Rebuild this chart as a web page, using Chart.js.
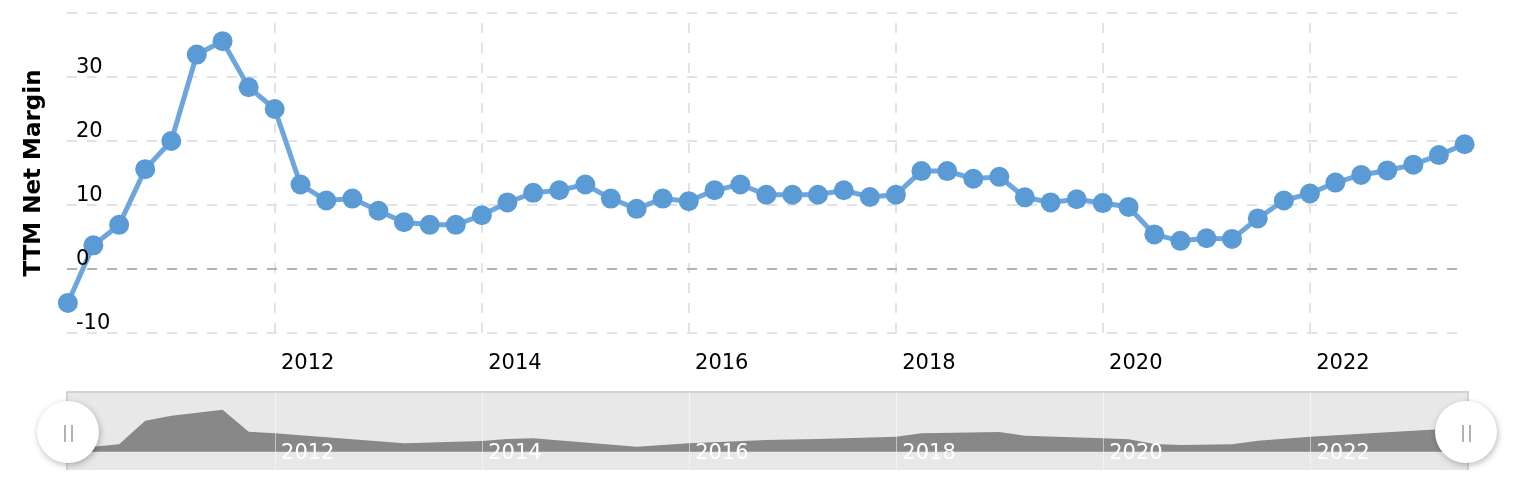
<!DOCTYPE html>
<html>
<head>
<meta charset="utf-8">
<script src="https://cdn.jsdelivr.net/npm/chart.js@4.4.1/dist/chart.umd.min.js"></script>
<style>
  html, body { margin: 0; padding: 0; background: #fff; }
  #wrap { position: relative; width: 1539px; height: 498px; }
  #mainBox { position: absolute; left: 0; top: 0; width: 1539px; height: 380px; }
  #navBox { position: absolute; left: 0; top: 380px; width: 1539px; height: 118px; }
</style>
</head>
<body>
<div id="wrap">
  <div id="mainBox"><canvas id="mainChart"></canvas></div>
  <div id="navBox"><canvas id="navChart"></canvas></div>
</div>
<script>
// quarterly TTM net margin (%)
const quarterDates = [
  '2009-12-31', '2010-03-31', '2010-06-30', '2010-09-30', '2010-12-31',
  '2011-03-31', '2011-06-30', '2011-09-30', '2011-12-31',
  '2012-03-31', '2012-06-30', '2012-09-30', '2012-12-31',
  '2013-03-31', '2013-06-30', '2013-09-30', '2013-12-31',
  '2014-03-31', '2014-06-30', '2014-09-30', '2014-12-31',
  '2015-03-31', '2015-06-30', '2015-09-30', '2015-12-31',
  '2016-03-31', '2016-06-30', '2016-09-30', '2016-12-31',
  '2017-03-31', '2017-06-30', '2017-09-30', '2017-12-31',
  '2018-03-31', '2018-06-30', '2018-09-30', '2018-12-31',
  '2019-03-31', '2019-06-30', '2019-09-30', '2019-12-31',
  '2020-03-31', '2020-06-30', '2020-09-30', '2020-12-31',
  '2021-03-31', '2021-06-30', '2021-09-30', '2021-12-31',
  '2022-03-31', '2022-06-30', '2022-09-30', '2022-12-31',
  '2023-03-31', '2023-06-30'
];
const netMargin = [
  -5.3, 3.7, 6.9, 15.6, 20.0,
  33.5, 35.6, 28.4, 25.0,
  13.2, 10.7, 11.0, 9.1,
  7.3, 6.9, 6.9, 8.4,
  10.4, 11.9, 12.3, 13.2,
  11.0, 9.4, 11.0, 10.6,
  12.3, 13.2, 11.6, 11.6,
  11.6, 12.3, 11.25, 11.6,
  15.3, 15.3, 14.1, 14.4,
  11.2, 10.4, 10.9, 10.3,
  9.7, 5.4, 4.4, 4.8,
  4.7, 7.9, 10.7, 11.8,
  13.5, 14.7, 15.4, 16.3,
  17.8, 19.5
];

// navigator series (as drawn in the strip below)
const navDates = [
  '2009-12-31', '2010-03-31', '2010-06-30', '2010-09-30', '2010-12-31',
  '2011-06-30', '2011-09-30', '2011-12-31', '2013-03-31', '2013-12-31',
  '2014-03-31', '2014-06-30', '2015-06-30', '2015-12-31', '2016-09-30',
  '2017-03-31', '2017-12-31', '2018-03-31', '2018-12-31', '2019-03-31',
  '2019-12-31', '2020-03-31', '2020-06-30', '2020-09-30', '2021-03-31',
  '2021-06-30', '2021-12-31', '2023-03-31', '2023-06-30'
];
const navMargin = [
  3.0, 4.2, 6.2, 26.0, 30.2,
  35.2, 16.8, 15.4, 7.0, 9.0,
  10.6, 11.2, 4.2, 7.0, 9.8,
  10.6, 12.6, 15.4, 16.5, 13.4,
  11.2, 10.4, 6.4, 5.6, 6.2,
  9.2, 12.6, 18.8, 19.6
];

const yearTicks = ['2012', '2014', '2016', '2018', '2020', '2022'];
const marginTicks = [-10, 0, 10, 20, 30, 40];

const toTime = d => Date.parse(d);
const yearTickItems = () => yearTicks.map(y => ({ value: toTime(y + '-01-01') }));
const baseFont = { family: 'DejaVu Sans', size: 21 };

new Chart(document.getElementById('mainChart'), {
  type: 'line',
  data: {
    datasets: [{
      label: 'TTM Net Margin',
      data: quarterDates.map((d, i) => ({ x: toTime(d), y: netMargin[i] })),
      borderColor: '#6ca6dc',
      borderWidth: 5,
      pointBackgroundColor: '#5b9bd5',
      pointBorderWidth: 0,
      pointRadius: 10,
      pointHoverRadius: 10,
      tension: 0,
      clip: false
    }]
  },
  options: {
    responsive: true,
    maintainAspectRatio: false,
    animation: false,
    events: [],
    layout: { padding: { top: 13, right: 82, bottom: 0, left: 20 } },
    plugins: { legend: { display: false }, tooltip: { enabled: false } },
    scales: {
      x: {
        type: 'linear',
        min: toTime('2009-12-28'),
        max: toTime('2023-06-03'),
        afterBuildTicks: s => { s.ticks = yearTickItems(); },
        afterFit: s => { s.height = 47; s.paddingLeft = 0; s.paddingRight = 0; },
        ticks: {
          callback: (v, i) => yearTicks[i],
          align: 'start',
          labelOffset: 6,
          padding: 17.5,
          maxRotation: 0,
          autoSkip: false,
          color: '#000',
          font: baseFont
        },
        grid: { color: '#e3e3e3', lineWidth: 2, drawTicks: false },
        border: { display: false, dash: [10, 10], dashOffset: 10 }
      },
      y: {
        min: -10,
        max: 40,
        afterBuildTicks: s => { s.ticks = marginTicks.map(v => ({ value: v })); },
        afterFit: s => { s.width = 47; s.paddingTop = 0; s.paddingBottom = 0; },
        ticks: {
          mirror: true,
          padding: 9,
          labelOffset: -9,
          z: 1,
          callback: v => (v === 40 ? '' : v),
          color: '#000',
          font: baseFont
        },
        grid: {
          color: c => (c.tick && c.tick.value === 0 ? '#b3b3b3' : '#e3e3e3'),
          lineWidth: 2,
          drawTicks: false
        },
        border: { display: false, dash: [10, 10] },
        title: {
          display: true,
          text: 'TTM Net Margin',
          color: '#000',
          font: { family: 'DejaVu Sans', size: 23, weight: 'bold' },
          padding: { top: 0, bottom: 0 }
        }
      }
    }
  }
});

// background, outline and the two round handles of the navigator
const navDecor = {
  id: 'navDecor',
  beforeDraw(chart) {
    const { ctx, chartArea: a } = chart;
    ctx.save();
    ctx.fillStyle = '#e8e8e8';
    ctx.fillRect(a.left, a.top, a.width, a.height);
    ctx.strokeStyle = '#d4d4d4';
    ctx.lineWidth = 2;
    ctx.beginPath();
    ctx.moveTo(a.left, a.bottom);
    ctx.lineTo(a.left, a.top);
    ctx.lineTo(a.right, a.top);
    ctx.lineTo(a.right, a.bottom);
    ctx.stroke();
    ctx.restore();
  },
  afterDraw(chart) {
    const { ctx, chartArea: a } = chart;
    const cy = a.top + 40;
    [a.left + 1, a.right - 2].forEach(cx => {
      ctx.save();
      ctx.shadowColor = 'rgba(0,0,0,0.28)';
      ctx.shadowBlur = 6;
      ctx.shadowOffsetX = 1;
      ctx.shadowOffsetY = 2;
      ctx.fillStyle = '#fff';
      ctx.beginPath();
      ctx.arc(cx, cy, 31, 0, Math.PI * 2);
      ctx.fill();
      ctx.restore();

      ctx.save();
      ctx.strokeStyle = '#999999';
      ctx.lineWidth = 1.5;
      ctx.beginPath();
      ctx.moveTo(cx - 3, cy - 7);
      ctx.lineTo(cx - 3, cy + 10);
      ctx.moveTo(cx + 4, cy - 7);
      ctx.lineTo(cx + 4, cy + 10);
      ctx.stroke();
      ctx.restore();
    });
  }
};

new Chart(document.getElementById('navChart'), {
  type: 'line',
  data: {
    datasets: [{
      data: navDates.map((d, i) => ({ x: toTime(d), y: navMargin[i] })),
      borderColor: '#888888',
      borderWidth: 0,
      backgroundColor: '#888888',
      fill: 'origin',
      pointRadius: 0,
      tension: 0
    }]
  },
  options: {
    responsive: true,
    maintainAspectRatio: false,
    animation: false,
    events: [],
    layout: { padding: { top: 12, right: 71, bottom: 28, left: 67 } },
    plugins: { legend: { display: false }, tooltip: { enabled: false } },
    scales: {
      x: {
        type: 'linear',
        min: toTime('2009-12-28'),
        max: toTime('2023-07-11'),
        position: { y: 9 },
        afterBuildTicks: s => { s.ticks = yearTickItems(); },
        afterFit: s => { s.paddingLeft = 0; s.paddingRight = 0; },
        ticks: {
          callback: (v, i) => yearTicks[i],
          align: 'start',
          labelOffset: 6,
          padding: 0,
          maxRotation: 0,
          autoSkip: false,
          z: 2,
          color: '#ffffff',
          font: baseFont
        },
        grid: { color: 'rgba(255,255,255,0.5)', lineWidth: 1, drawTicks: false, z: 1 },
        border: { display: false }
      },
      y: { display: false, min: -15.3, max: 50 }
    }
  },
  plugins: [navDecor]
});
</script>
</body>
</html>
